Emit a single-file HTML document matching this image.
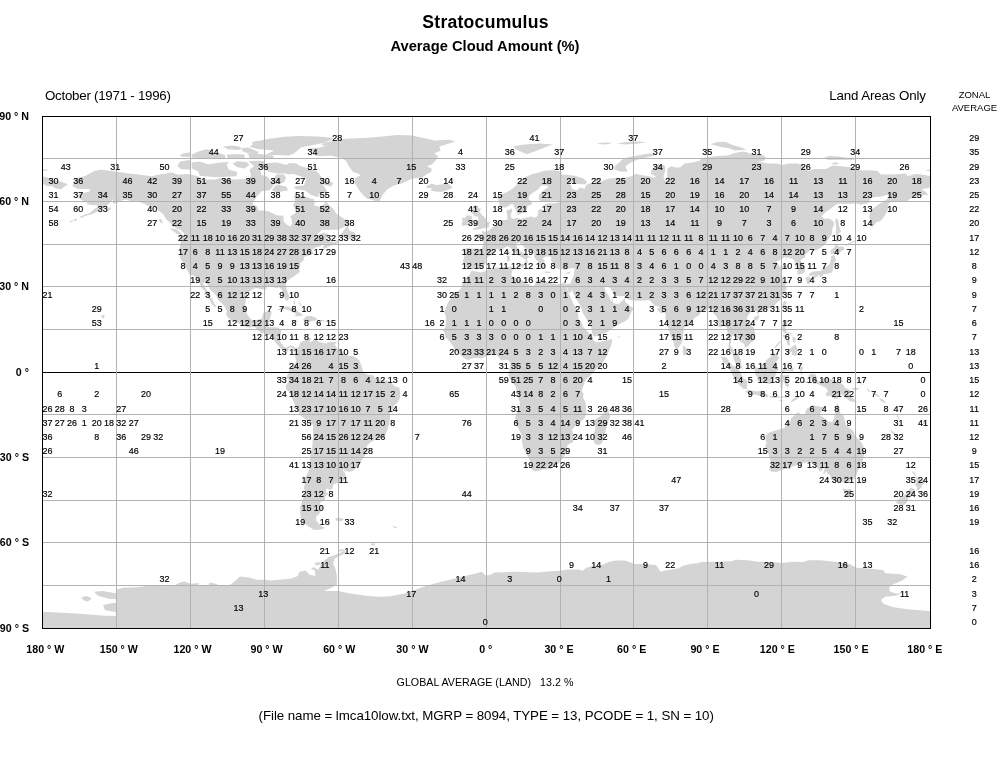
<!DOCTYPE html>
<html><head><meta charset="utf-8"><title>Stratocumulus</title>
<style>
html,body{margin:0;padding:0;background:#fff;}
body{width:997px;height:760px;overflow:hidden;position:relative;font-family:"Liberation Sans",sans-serif;}
svg{position:absolute;left:0;top:0;will-change:transform;}
text{font-family:"Liberation Sans",sans-serif;fill:#000;}
.n{font-size:9.6px;text-anchor:middle;stroke:#000;stroke-width:0.18px;}
.b{font-weight:bold;font-size:10.67px;}
</style></head><body>
<svg width="997" height="760" viewBox="0 0 997 760">
<defs><clipPath id="c"><rect x="43" y="117" width="887" height="511"/></clipPath></defs>
<g clip-path="url(#c)">
<path d="M72.3 185.9L76.0 178.2L84.6 176.2L94.5 171.1L100.6 169.7L111.7 171.1L121.6 172.5L129.0 173.4L138.8 174.5L151.1 176.2L158.5 174.8L167.1 173.4L170.8 172.3L178.2 174.8L188.1 174.0L197.9 176.2L202.9 179.4L215.2 179.4L220.1 177.9L227.5 179.1L234.9 179.6L244.7 179.1L249.7 178.5L250.9 174.8L249.7 170.5L254.6 168.3L258.3 172.0L260.8 174.8L266.9 176.2L270.6 180.5L274.3 177.7L276.8 174.2L284.2 174.5L285.9 177.7L284.2 181.9L279.2 184.2L274.3 184.2L271.8 187.6L269.4 190.5L262.0 191.0L257.1 196.1L253.4 201.8L252.6 204.7L257.1 206.1L258.3 210.4L264.5 210.4L269.4 211.8L276.8 215.2L283.4 215.8L283.7 221.7L286.6 224.6L290.3 226.6L292.3 224.0L291.5 218.9L290.3 216.6L295.2 213.2L297.7 209.8L292.8 205.5L295.2 201.8L294.0 195.3L300.2 195.6L306.3 196.7L310.0 198.4L313.7 199.0L314.9 203.3L313.7 205.2L318.6 206.7L323.6 205.2L326.0 201.0L328.5 204.7L333.4 208.9L335.9 213.2L339.6 216.1L344.5 218.9L348.2 221.7L348.9 224.6L345.7 226.3L338.4 229.7L328.5 229.7L322.3 229.7L318.6 233.1L313.7 237.4L311.3 239.4L314.9 236.5L323.6 232.6L327.8 233.7L326.0 236.5L326.5 238.8L328.5 241.1L334.7 242.2L338.4 239.4L338.4 242.2L335.9 243.9L329.7 245.9L324.8 248.8L323.1 247.9L323.6 245.6L327.3 243.6L321.1 244.5L321.1 245.9L316.2 247.3L312.5 249.3L312.0 251.6L313.7 253.0L313.7 254.2L310.0 254.7L303.9 257.0L303.9 260.1L300.2 263.0L300.2 267.3L298.9 267.8L299.9 272.1L296.5 274.4L294.0 276.4L290.3 278.6L286.6 281.5L285.6 285.7L287.9 292.9L289.1 296.3L288.3 300.8L286.1 300.8L284.2 297.1L282.2 292.9L282.2 290.0L279.2 287.2L275.5 288.0L271.8 286.0L266.9 286.3L266.2 289.4L262.0 289.2L255.8 288.0L252.1 289.4L247.2 292.9L246.2 298.5L245.2 304.2L245.5 309.1L246.7 313.6L249.7 317.9L253.1 320.7L258.3 319.6L262.0 318.5L263.2 312.8L268.1 311.3L271.8 311.3L270.6 317.0L269.4 319.9L268.6 324.1L267.4 327.0L270.6 327.3L274.3 327.3L278.0 327.6L281.2 329.8L280.5 335.5L280.0 341.2L281.7 344.1L284.2 346.9L286.6 347.5L289.1 346.3L290.3 345.2L292.8 345.8L295.2 347.8L295.7 349.7L293.5 351.2L292.8 348.3L290.3 347.2L288.3 349.2L287.9 351.7L285.4 350.6L281.7 348.9L280.0 347.8L276.8 344.1L274.8 341.5L273.1 338.4L270.6 335.5L268.1 335.0L264.5 333.5L260.8 332.7L258.3 330.7L254.6 326.7L252.1 327.0L248.4 327.8L243.5 325.9L239.8 324.1L235.4 321.6L231.2 320.2L227.5 316.7L226.0 314.2L226.8 311.3L225.0 307.1L221.3 302.8L217.6 299.4L216.4 295.7L214.0 292.9L210.3 290.0L207.8 284.3L203.6 282.0L203.4 284.3L204.8 287.2L207.8 291.4L210.3 295.7L212.7 300.0L214.4 303.7L216.4 306.5L214.7 307.1L211.5 303.4L209.8 300.0L207.8 296.8L204.1 294.3L205.3 291.4L201.6 287.7L199.2 282.9L197.4 279.5L194.2 275.8L189.3 274.4L188.1 271.5L185.6 267.8L184.4 265.0L181.2 260.1L180.0 257.6L180.7 253.0L179.5 250.2L180.7 241.7L179.2 235.1L183.2 235.1L184.4 238.0L183.7 233.1L180.7 230.3L175.8 228.0L172.1 226.0L170.8 223.2L167.1 220.3L165.2 217.5L163.5 214.6L158.5 210.4L154.8 207.0L149.9 206.7L146.2 204.7L141.3 202.4L136.4 201.8L131.4 201.8L126.5 199.6L121.6 200.4L117.9 202.4L113.0 203.8L113.0 199.0L109.3 203.3L106.8 206.1L101.9 209.5L96.9 211.8L92.0 214.1L87.1 215.5L80.9 217.2L84.6 214.6L89.6 213.2L94.5 208.9L98.2 206.1L95.7 205.2L92.0 205.2L87.1 204.1L87.1 201.8L82.2 200.4L78.5 197.6L77.2 196.1L79.7 193.3L84.6 192.7L89.6 191.6L89.6 189.0L84.6 189.0L77.2 188.7ZM295.7 348.3L298.9 346.9L300.2 342.6L302.6 341.2L306.3 339.8L308.8 338.4L310.0 337.2L311.3 338.9L309.3 341.8L311.3 341.8L313.7 339.8L314.5 337.8L317.4 341.2L321.1 342.6L326.0 343.5L328.5 342.3L333.4 342.1L334.7 344.6L337.1 348.3L340.8 349.7L344.5 354.0L348.2 355.7L353.1 356.0L356.8 358.3L359.3 360.3L361.8 366.8L363.0 371.1L363.0 372.5L366.7 373.9L367.9 374.8L372.8 375.3L376.5 379.0L380.2 379.6L383.9 380.7L387.6 380.5L391.3 383.0L395.0 386.4L399.2 387.6L400.2 392.4L399.9 398.1L397.5 402.4L394.3 405.2L392.5 409.5L390.1 412.3L390.1 418.0L389.3 423.7L387.6 429.4L385.2 435.1L382.7 437.9L377.8 438.5L374.1 440.2L370.4 442.5L366.7 445.9L366.4 450.7L365.4 454.4L362.5 459.3L359.3 463.5L356.8 466.9L354.4 469.8L350.7 471.8L347.0 471.5L343.3 469.8L342.3 469.2L345.2 473.5L345.7 476.3L344.0 480.6L340.8 482.6L335.9 483.4L332.9 484.9L332.7 488.6L329.7 489.7L326.0 488.6L326.0 492.5L329.0 493.4L325.3 496.2L324.8 500.5L320.4 501.9L319.9 504.8L323.6 507.6L321.1 510.7L318.6 514.7L316.2 516.1L316.2 520.4L317.4 521.8L318.6 523.3L321.1 526.1L324.8 528.1L322.3 529.2L317.4 530.1L313.7 529.8L310.0 527.5L306.3 524.7L302.6 521.8L300.7 517.6L300.2 511.9L300.2 506.2L302.6 500.5L303.9 496.2L305.1 492.0L303.9 487.7L305.1 483.4L304.8 479.2L306.8 474.9L308.8 470.6L309.8 466.4L310.0 460.7L310.3 455.0L311.3 450.7L312.5 445.0L312.7 439.3L313.2 432.2L313.0 425.1L310.0 421.7L305.1 418.9L300.2 415.2L298.2 411.8L296.0 407.2L294.0 402.4L291.5 396.7L289.1 391.8L286.1 389.6L285.9 385.3L288.3 382.2L289.1 379.6L286.6 378.8L287.1 375.3L289.1 372.5L289.1 369.7L291.5 368.2L292.8 365.4L295.2 364.5L296.0 361.1L295.2 356.9L295.2 352.6L294.3 351.7ZM306.3 150.1L316.2 152.1L311.3 154.0L318.6 156.3L331.0 155.8L340.8 157.7L345.7 160.6L348.2 164.9L350.7 169.1L353.1 172.0L358.1 173.4L360.5 175.4L355.6 177.7L354.4 181.9L356.8 186.2L359.3 190.5L363.0 194.7L366.7 198.4L372.8 200.1L377.8 202.1L380.2 200.4L381.5 196.7L383.9 193.3L387.6 189.0L393.8 185.6L402.4 183.3L412.2 178.5L422.1 177.4L427.0 174.0L430.7 172.5L432.0 169.1L427.0 166.3L432.0 164.3L435.7 160.6L438.1 156.3L434.4 153.5L440.6 150.6L439.3 146.4L444.3 144.9L455.4 141.5L449.2 139.8L434.4 140.4L427.0 138.7L412.2 135.6L397.5 135.0L382.7 136.4L367.9 137.8L350.7 138.4L338.4 139.3L331.0 141.2L323.6 143.0L321.1 144.9L326.0 146.1L318.6 147.8L308.8 148.6ZM426.3 186.2L432.0 183.6L436.9 185.3L441.8 184.2L446.7 183.3L449.9 184.8L452.6 187.6L449.2 189.6L441.8 191.9L435.7 191.6L430.7 190.7L432.0 188.2L427.0 187.9ZM289.1 162.9L296.5 163.4L298.9 165.4L308.8 168.6L316.2 171.1L319.9 174.8L322.3 178.5L329.7 181.4L333.4 183.1L331.0 186.8L327.3 185.6L322.3 184.2L326.0 189.0L327.3 192.4L322.3 192.4L317.4 195.3L323.6 196.1L316.2 196.7L310.0 194.2L305.1 190.5L297.7 189.6L294.0 188.2L295.2 186.2L303.9 185.6L305.1 182.5L306.3 178.5L298.9 175.7L292.8 173.7L289.1 174.5L284.2 173.4L276.8 173.4L269.4 172.0L265.7 170.0L264.5 166.3L266.9 163.1L276.8 162.6L286.6 165.1ZM264.5 155.5L276.8 154.9L289.1 155.5L294.0 153.5L298.9 149.2L301.4 147.2L311.3 145.5L323.6 142.7L331.0 140.1L333.4 138.1L318.6 136.4L298.9 136.1L284.2 136.7L269.4 138.7L259.5 140.7L257.1 143.5L252.1 144.9L249.7 146.9L257.1 148.9L266.9 149.8L274.3 150.6L269.4 152.9ZM271.8 189.9L276.8 192.4L282.9 191.3L287.9 190.5L286.6 186.8L279.2 185.1L275.5 185.6ZM340.1 236.8L343.3 237.1L348.2 239.1L353.1 239.7L355.6 238.2L356.3 235.1L353.9 232.3L349.4 230.8L348.2 227.4L349.4 225.7L345.7 227.4L344.0 230.3L340.8 234.3ZM170.1 228.0L177.0 229.4L181.9 233.7L181.4 235.1L177.0 233.7L172.1 230.3ZM277.0 310.2L281.7 307.1L287.9 306.5L294.0 308.8L299.7 312.8L303.4 315.0L301.4 315.9L294.7 316.2L296.0 313.9L292.8 311.9L287.9 309.9L284.2 309.1L279.7 309.9ZM302.6 320.2L306.3 315.9L311.3 315.9L314.9 317.3L317.7 319.6L314.9 320.4L311.3 321.0L309.3 321.9L306.8 320.4ZM293.0 320.2L298.2 321.0L297.0 321.9L294.0 321.9ZM320.6 319.9L324.3 320.2L324.1 321.6L320.6 321.3ZM105.6 207.8L111.0 207.5L110.5 209.8L106.3 210.9ZM158.5 218.9L161.5 219.2L163.0 223.2L160.3 222.6ZM471.6 270.7L481.2 272.4L486.2 270.7L493.5 267.8L503.4 267.3L510.8 266.4L513.2 267.5L512.0 271.5L511.3 274.9L513.7 278.1L518.2 278.9L523.8 280.9L524.3 282.9L529.3 284.6L533.0 286.3L535.4 284.3L535.4 280.9L540.3 279.2L544.0 280.9L547.7 282.6L553.9 283.8L557.6 284.6L562.5 282.9L565.7 283.8L570.4 283.5L566.2 287.2L568.7 292.9L571.1 298.5L573.6 304.2L577.3 309.9L578.0 314.2L578.5 319.0L581.0 321.3L583.0 327.0L585.9 329.8L589.6 334.1L592.6 336.9L592.8 339.5L595.8 342.6L600.7 341.8L605.6 340.6L612.3 338.9L611.8 342.9L610.5 346.9L608.1 352.6L605.6 358.3L601.9 364.0L597.0 368.2L593.3 372.5L589.6 375.9L585.9 379.6L583.5 385.3L581.7 390.4L583.5 393.8L583.2 398.1L585.4 402.4L586.2 408.1L586.4 413.7L584.7 418.0L581.0 421.4L576.8 423.7L573.6 428.0L571.9 429.4L573.1 433.7L573.6 439.3L572.9 442.2L567.4 445.0L566.9 447.9L566.9 452.1L564.5 455.6L562.0 459.3L558.8 463.0L555.1 466.1L551.4 468.6L547.7 469.2L542.8 469.5L535.4 471.5L531.7 469.8L531.0 464.9L530.5 462.1L528.0 456.4L525.6 452.1L523.1 447.9L521.9 440.8L521.6 435.1L518.9 429.4L516.2 423.7L515.2 418.0L516.9 412.3L519.4 408.1L519.9 402.4L518.2 398.1L516.9 391.0L515.7 386.7L513.2 383.3L509.6 378.8L508.3 374.8L509.1 371.1L510.0 366.8L510.3 362.5L507.8 359.7L503.4 360.0L500.9 360.3L498.5 356.9L496.0 354.6L491.1 354.6L486.2 356.3L481.2 358.6L477.5 358.0L473.8 358.0L467.7 360.0L464.0 358.3L459.1 353.4L455.4 351.2L453.4 346.9L450.4 342.6L448.0 339.8L445.0 336.9L444.8 332.7L443.0 330.7L445.5 327.0L446.0 321.3L446.2 317.0L444.3 312.8L445.5 308.5L447.2 304.2L449.7 300.0L452.9 295.7L454.6 292.9L459.1 290.6L461.5 287.7L462.3 284.3L463.2 280.1L466.4 277.2L469.4 275.2ZM607.6 406.6L610.1 416.6L608.1 422.3L605.6 430.8L603.2 439.3L601.9 443.6L598.2 445.0L594.5 443.6L593.1 437.9L593.6 433.7L595.3 429.4L595.0 423.7L594.5 420.3L598.2 417.4L601.9 415.2L604.4 411.8ZM570.4 283.5L572.1 279.2L573.6 275.8L574.3 270.7L575.3 268.4L571.1 268.1L566.2 269.8L561.3 269.2L557.6 268.7L553.9 267.3L552.7 263.0L550.7 260.1L551.4 257.9L550.2 256.4L545.3 256.4L542.8 258.2L544.8 261.6L542.8 264.4L545.3 265.0L542.8 268.7L540.3 267.8L538.6 265.8L537.9 261.6L534.2 257.3L534.2 253.6L530.5 250.8L525.6 248.8L523.1 245.9L520.6 243.9L519.9 242.5L516.4 243.6L516.9 247.3L520.6 251.6L525.6 253.6L531.7 258.2L528.0 257.3L526.8 260.1L528.0 261.9L525.6 264.4L524.8 264.4L525.6 260.1L523.1 258.2L520.6 256.4L516.9 254.2L513.2 251.6L511.5 248.8L507.8 246.2L504.6 247.9L500.9 249.9L497.2 249.1L494.0 249.6L494.0 253.0L491.1 255.0L487.4 257.3L485.4 260.1L486.2 262.4L484.4 265.0L481.2 267.8L475.1 268.1L472.6 269.8L470.6 268.1L467.7 267.0L464.2 267.3L464.5 263.0L462.7 262.1L464.5 255.9L464.2 251.6L463.5 249.6L466.4 247.9L471.4 248.5L477.5 248.8L481.7 249.1L482.9 245.9L483.4 241.7L481.2 238.8L475.1 236.5L474.6 234.5L478.8 233.7L482.5 234.0L481.7 231.1L486.2 232.0L489.8 229.7L492.3 227.4L494.8 226.3L496.5 224.0L498.0 221.7L500.9 220.3L505.9 220.0L507.6 218.9L507.1 214.6L506.3 210.4L509.6 209.8L512.0 208.4L512.0 211.8L510.8 214.6L510.8 217.2L513.2 218.9L516.9 217.8L520.6 218.9L526.8 217.5L531.7 216.6L534.2 217.8L537.9 216.1L537.9 210.9L540.3 208.7L544.0 210.4L546.0 208.1L544.0 206.1L545.3 203.8L550.2 203.3L555.1 203.3L560.0 202.1L556.4 200.4L551.4 200.7L545.3 201.8L541.6 201.8L538.6 199.0L539.1 194.7L542.8 191.0L547.7 187.6L548.5 186.2L544.0 185.3L540.3 186.2L538.6 189.0L534.2 191.9L529.3 195.3L528.5 199.0L531.7 201.8L531.7 204.7L528.0 205.5L526.8 208.9L525.6 212.6L521.9 213.2L518.2 214.9L516.9 212.6L515.2 208.9L513.2 204.7L512.0 203.8L509.6 205.2L505.9 207.5L502.2 207.5L499.7 205.2L498.5 201.8L498.5 197.6L500.9 194.7L507.1 191.9L512.0 189.0L516.9 184.8L520.6 180.5L525.6 177.1L531.7 174.2L537.9 172.8L545.3 170.5L552.7 170.3L558.8 171.1L562.5 172.5L560.0 174.2L567.4 175.1L574.8 175.7L583.5 178.5L587.1 181.9L585.9 184.2L579.8 184.2L572.4 182.8L567.4 182.8L571.1 185.3L571.9 189.0L577.3 190.5L579.3 187.6L584.7 188.7L585.9 185.3L589.6 183.3L594.5 184.2L595.3 180.5L594.5 177.7L599.5 178.5L600.7 181.9L604.4 179.9L609.3 178.5L616.7 177.7L620.4 178.5L626.6 177.4L631.5 176.2L635.2 174.0L643.8 175.4L648.7 176.2L653.7 177.7L656.1 176.5L651.2 174.0L651.2 170.5L654.9 166.3L658.6 164.3L664.7 165.4L665.5 170.5L663.5 176.2L664.7 180.5L668.4 181.9L667.2 177.7L667.2 169.1L670.9 166.3L677.1 167.7L680.8 167.1L684.4 163.4L693.1 162.6L700.5 160.6L700.5 158.6L707.9 157.2L717.7 156.0L727.6 155.5L734.9 152.9L743.1 151.5L747.3 152.6L752.2 154.3L762.0 154.9L765.7 156.9L764.5 160.6L757.1 162.0L763.3 162.6L767.0 163.4L776.8 163.4L781.8 164.9L789.1 163.4L797.8 163.4L802.7 164.9L805.2 169.1L808.8 171.1L813.8 169.1L821.2 169.1L826.1 169.1L831.0 166.3L833.5 165.4L845.8 166.8L854.4 167.7L856.9 169.4L861.8 170.5L870.4 170.3L877.8 171.1L880.3 174.2L885.2 174.5L892.6 174.5L900.0 174.0L906.1 173.4L907.4 176.2L914.8 174.0L919.7 174.2L924.6 175.1L930.8 176.2L930.8 187.0L927.1 188.5L923.4 188.5L922.2 189.9L925.9 191.9L928.3 194.7L922.2 195.3L914.8 196.7L909.8 199.0L906.1 201.8L897.5 201.0L890.1 202.1L887.7 206.1L888.4 208.1L886.4 212.6L884.7 216.1L880.3 221.2L876.6 222.0L872.2 227.4L870.4 223.2L869.2 216.1L870.4 210.4L875.4 206.7L880.3 203.3L885.2 200.4L888.9 197.6L887.7 194.7L880.3 196.7L877.8 196.7L871.7 197.6L868.0 203.3L860.6 204.7L855.6 203.3L850.7 203.8L843.3 203.8L837.2 203.8L831.0 208.4L826.1 211.8L821.2 216.6L824.9 218.9L828.6 218.3L833.5 221.2L834.2 224.6L832.2 228.9L831.8 234.5L828.6 238.8L826.1 243.1L822.4 246.8L819.2 248.8L813.8 251.0L810.8 249.6L808.1 252.2L805.6 254.5L805.2 257.3L800.2 260.1L802.2 263.0L804.7 267.3L805.2 271.5L802.7 273.5L797.8 274.7L797.3 271.5L798.3 267.8L794.6 265.3L794.8 260.7L792.3 259.0L787.2 257.3L785.0 261.6L786.2 256.4L779.8 260.1L776.3 261.6L778.1 264.4L779.8 266.7L783.7 265.0L787.9 266.7L784.2 268.7L780.5 272.1L781.8 275.8L784.2 280.1L786.4 282.9L785.4 285.7L786.7 287.7L785.4 291.4L783.0 295.1L780.5 300.0L776.8 302.8L774.4 305.7L770.7 307.9L767.0 309.1L763.3 310.8L759.6 311.6L757.6 314.8L756.6 311.3L753.4 310.8L749.7 312.8L747.3 317.0L746.8 319.0L749.7 324.1L753.4 327.0L755.1 332.7L755.4 336.9L754.7 339.8L751.0 342.6L748.5 345.5L744.8 347.8L744.3 344.1L741.1 342.3L738.6 338.9L734.9 336.4L733.7 334.1L732.5 335.0L731.3 339.8L730.5 345.5L732.5 348.3L733.7 352.0L736.2 353.2L738.6 355.4L740.9 359.7L741.1 364.5L742.8 368.5L741.1 368.8L736.2 364.8L734.5 361.1L733.2 356.9L732.5 354.0L730.0 350.3L728.3 348.3L728.8 344.1L729.3 338.4L727.6 332.7L726.6 327.0L722.6 325.6L720.9 327.6L718.4 327.0L718.4 321.3L716.5 316.2L713.3 313.3L712.3 309.1L709.1 308.5L705.4 310.5L700.5 311.9L699.2 315.6L695.5 317.0L691.8 321.3L688.9 325.0L684.0 327.8L683.2 334.1L682.7 339.8L681.5 343.2L678.8 346.9L677.1 349.5L674.6 346.9L672.9 340.4L670.4 335.5L668.9 329.8L666.7 324.1L665.5 318.5L665.5 312.8L663.5 312.8L661.0 313.3L658.6 311.3L656.6 309.1L659.8 307.1L654.9 305.7L651.9 302.8L650.0 300.3L643.8 300.5L637.6 300.8L631.5 300.3L627.3 299.1L625.3 295.7L620.4 296.6L616.7 295.7L613.0 292.9L610.5 288.6L606.9 286.3L604.4 287.2L605.6 291.4L608.1 294.8L609.3 297.1L611.3 301.4L613.0 298.8L613.0 302.8L615.5 303.7L619.2 303.7L622.9 300.0L624.8 298.0L625.3 302.0L629.0 305.1L633.5 308.5L630.3 314.2L628.5 318.5L625.3 321.3L622.1 322.7L616.7 325.6L611.8 329.0L605.6 332.7L599.5 334.7L597.0 336.1L593.3 336.4L592.1 332.7L591.3 327.0L587.1 319.9L582.7 312.8L581.0 307.1L577.8 301.4L573.6 294.3L571.9 290.0L572.1 288.6L570.6 292.9L568.9 292.3L566.9 287.7L565.7 283.8ZM41.5 176.2L47.7 177.7L55.1 180.5L62.5 181.9L67.9 184.5L64.9 186.2L61.2 189.3L55.1 188.2L52.6 186.2L46.4 185.9L44.0 183.9L41.5 187.0ZM613.8 168.8L615.5 165.4L619.2 162.6L622.9 159.2L629.0 156.9L638.9 155.2L648.7 153.5L656.1 153.8L653.7 155.8L642.6 158.3L635.2 160.6L629.0 163.4L625.3 166.8L627.8 171.4L621.6 171.7L617.9 170.8ZM513.2 146.4L520.6 144.9L530.5 144.1L540.3 143.5L552.7 144.4L545.3 147.2L539.1 149.8L533.0 152.1L526.8 154.3L521.9 152.1L515.7 149.2ZM597.0 143.2L604.4 142.4L611.8 142.7L609.3 144.1L601.9 144.4ZM616.7 143.2L626.6 142.1L638.9 141.5L646.3 142.4L636.4 143.8L624.1 144.4ZM710.3 144.1L717.7 142.1L725.1 141.8L732.5 144.9L742.3 147.8L746.0 149.8L734.9 150.6L730.0 148.4L722.6 147.2L715.2 145.5ZM823.6 158.3L828.6 156.0L838.4 156.6L845.8 157.7L855.6 158.3L853.2 159.7L843.3 159.7L835.9 159.7L828.6 160.0ZM830.5 163.7L835.9 162.3L839.6 163.7L834.7 164.6ZM925.9 170.3L930.8 169.1L930.8 170.8L927.1 171.1ZM41.5 169.1L48.9 169.7L46.4 170.8L41.5 170.8ZM835.9 218.0L838.4 220.3L839.1 226.0L840.9 231.7L838.4 233.7L839.1 238.8L839.6 241.1L835.9 241.7L835.9 237.4L835.9 231.7L835.9 226.0L835.2 221.7ZM831.0 254.5L833.5 253.6L838.9 253.0L844.6 249.3L843.3 246.8L838.4 246.5L835.5 243.1L834.7 247.3L831.8 249.3L830.5 251.6ZM834.2 254.7L835.9 260.1L833.5 264.4L833.0 268.7L832.2 272.4L829.8 272.9L827.3 274.1L823.6 274.1L823.1 274.9L820.7 277.2L818.7 274.9L813.8 275.2L808.8 275.8L808.8 274.1L812.5 271.8L816.2 271.2L821.2 271.0L823.1 267.3L824.9 266.4L827.3 266.4L829.8 263.6L831.0 259.3L831.0 256.4ZM806.4 277.2L808.8 276.4L810.8 278.6L810.1 282.9L808.4 284.3L806.9 283.5L806.4 280.1L805.2 278.6ZM812.5 275.8L817.5 274.9L817.5 276.6L815.0 277.8L813.0 279.2L812.0 277.2ZM784.2 300.8L786.7 301.4L785.4 305.7L783.7 309.9L782.2 307.1L782.5 304.2ZM753.9 317.6L758.3 315.3L759.6 316.7L757.1 320.2L753.9 319.9ZM783.0 319.9L787.2 319.9L787.4 324.1L785.4 327.6L786.7 332.1L791.1 333.2L791.6 336.4L789.1 334.1L786.2 333.2L783.5 332.7L782.5 330.4L781.5 326.4L782.7 322.7ZM786.7 351.2L790.4 348.3L795.3 344.6L797.5 348.9L797.0 354.0L795.3 356.0L792.1 354.9L791.6 351.7L787.2 352.9ZM792.3 336.9L795.3 337.5L795.5 341.2L794.1 343.5L792.8 340.6ZM786.7 338.9L789.6 339.8L789.9 345.5L787.9 345.5L786.7 342.6ZM774.9 348.6L778.1 345.5L780.5 341.8L780.0 340.4L776.8 344.6L774.4 347.5ZM782.7 334.4L785.2 334.7L785.2 337.5L783.7 337.5ZM754.7 366.8L757.1 367.7L759.6 368.2L760.6 365.1L764.5 363.4L767.0 359.4L770.7 356.9L773.9 352.6L775.6 354.0L779.3 357.7L777.6 359.7L776.1 362.5L776.8 366.8L779.3 369.7L776.3 371.1L775.6 375.3L773.1 379.6L771.9 383.3L768.7 384.2L764.5 381.9L761.6 382.5L757.6 380.7L757.1 376.8L755.1 373.9L754.7 370.2ZM720.9 356.6L726.3 357.7L728.8 361.1L732.5 365.4L734.9 366.8L739.9 371.1L741.8 375.3L743.6 378.2L747.3 381.0L746.8 389.0L743.6 389.0L738.1 383.9L734.9 379.6L732.5 375.3L729.5 368.2L726.3 364.5L722.6 361.1ZM745.3 391.8L748.5 389.6L753.4 391.0L758.3 391.6L759.6 390.7L763.3 392.1L767.7 394.4L768.2 397.2L762.0 396.4L755.9 394.7L751.0 394.4L748.0 393.5ZM769.4 395.8L774.4 396.1L779.3 396.4L784.2 396.4L789.1 396.1L788.6 397.5L781.8 397.8L778.1 397.8L774.4 398.1L769.9 397.5ZM790.4 401.8L794.1 398.1L799.5 396.4L797.8 398.7L792.8 401.5ZM779.3 399.5L783.7 400.9L781.8 401.8L779.3 400.4ZM781.3 370.2L784.2 368.8L789.1 369.7L794.1 367.7L792.8 371.4L789.1 371.1L785.4 371.1L782.5 372.5L783.0 375.3L785.4 375.3L789.9 375.1L787.9 377.3L785.4 378.2L787.4 381.6L789.1 385.3L787.4 387.6L785.9 385.9L784.2 382.5L783.0 381.0L782.7 385.3L782.5 388.4L780.5 388.1L780.5 382.5L778.8 380.5L780.0 376.8L781.3 373.1ZM800.2 367.4L801.5 366.2L803.2 368.2L801.5 371.1L802.7 373.9L801.0 374.8L800.2 371.1ZM801.5 381.0L808.4 381.6L807.6 383.0L801.9 382.5ZM796.5 381.6L799.5 381.9L798.5 383.3L796.5 382.7ZM808.8 374.8L812.5 373.6L816.2 374.8L816.7 378.8L818.7 381.9L822.4 378.8L826.1 377.3L831.0 379.3L834.7 380.2L839.6 382.5L843.3 384.7L845.3 388.1L849.5 389.6L850.2 391.8L848.3 392.4L850.7 395.8L854.4 399.5L856.9 401.8L853.2 401.8L849.5 400.9L845.8 397.5L842.1 394.4L839.6 396.1L837.2 398.7L833.5 398.4L829.8 395.5L826.6 396.4L825.6 393.3L828.1 391.8L826.1 388.1L821.2 385.6L817.5 383.9L813.8 384.2L813.3 381.9L811.3 380.5L815.0 379.6L811.3 378.2L808.8 376.5ZM852.0 388.1L855.6 388.1L859.3 388.1L861.3 384.4L860.6 386.7L858.1 389.6L854.4 390.4ZM857.6 379.9L861.8 382.7L863.3 385.9L861.8 384.4L858.1 381.0ZM867.0 387.9L870.2 391.3L869.0 392.1L867.0 389.6ZM683.2 344.9L686.2 348.3L687.7 352.6L685.7 354.9L683.7 355.4L682.7 351.2ZM765.7 435.1L767.0 434.5L769.4 432.2L773.9 431.1L779.3 429.4L784.2 428.0L787.4 423.7L787.2 420.9L790.4 421.4L790.9 418.6L794.1 415.7L797.8 412.3L801.5 414.6L805.2 414.9L805.6 410.9L807.6 408.1L810.1 407.2L812.5 404.9L815.0 406.1L819.9 406.6L823.1 407.2L821.2 410.9L819.9 415.2L823.6 417.4L828.6 421.4L832.2 422.3L834.2 418.0L835.0 412.3L835.5 408.1L837.2 403.2L839.6 408.1L840.1 413.2L843.3 415.2L844.6 419.4L845.8 425.1L849.5 428.0L853.2 430.8L854.4 435.1L857.6 437.9L861.8 443.0L863.5 446.5L864.3 452.7L863.0 459.3L861.8 464.1L858.9 468.6L856.9 473.5L855.6 478.3L850.7 480.3L846.5 483.4L843.3 481.4L839.6 482.6L834.7 481.4L831.0 479.2L829.8 474.9L827.3 473.5L826.1 470.6L824.9 473.5L823.1 474.0L824.9 467.8L825.6 465.5L821.2 471.2L819.9 471.5L816.7 466.4L813.8 463.8L808.8 462.1L803.9 462.7L797.8 464.4L791.6 466.9L790.4 468.9L784.2 468.9L780.5 470.3L776.8 472.1L771.9 471.8L769.4 470.1L769.4 467.8L771.2 463.5L770.2 459.3L768.9 455.0L767.0 450.7L765.2 446.5L766.5 443.6L765.7 440.2ZM842.6 488.6L847.0 489.4L851.2 488.8L851.5 492.0L850.2 495.4L847.0 496.5L844.6 494.2L843.8 491.4ZM911.8 470.6L914.8 472.9L916.7 477.2L919.2 477.2L919.7 479.5L924.6 479.5L925.9 480.0L924.1 484.0L922.2 484.6L921.7 487.1L918.0 490.8L916.7 490.0L917.2 486.8L914.3 484.6L916.2 482.9L916.5 479.2L915.5 476.3L912.3 472.6ZM911.6 487.7L915.3 489.7L913.5 493.4L911.8 496.2L908.1 498.5L906.9 502.8L903.7 505.1L900.7 504.8L896.3 503.3L897.0 500.5L900.7 497.7L904.9 494.8L908.1 492.0L909.8 488.6ZM890.1 429.7L893.8 431.9L897.5 435.9L895.8 435.9L891.4 432.5ZM472.1 230.0L477.5 229.4L483.7 228.3L489.4 226.9L488.6 225.2L490.3 222.6L486.9 221.7L486.2 219.8L484.9 217.5L482.5 215.5L480.7 213.2L479.5 211.8L481.2 208.7L477.5 208.1L478.8 205.8L473.8 205.8L472.1 208.9L470.9 211.8L473.3 214.6L474.3 216.6L477.5 216.3L478.8 218.9L478.3 220.6L475.1 220.9L475.8 223.2L473.3 225.2L477.5 226.0L478.8 226.9L475.1 227.4ZM471.4 224.0L470.9 220.3L472.6 217.5L470.6 215.5L466.4 215.5L465.2 217.8L461.5 218.3L462.7 220.9L461.5 224.6L462.7 226.0L466.4 225.2ZM516.9 264.4L524.3 263.8L523.6 268.1L516.9 265.5ZM506.6 255.9L509.8 255.9L509.8 261.0L507.1 261.6ZM507.6 251.6L509.3 250.2L509.6 254.5L507.8 254.5ZM544.3 271.2L550.7 272.1L550.2 272.9L545.3 272.9ZM565.7 272.9L571.1 271.2L569.4 273.5L566.2 274.1ZM80.2 216.3L84.1 215.8L83.6 217.2L79.9 217.8ZM74.0 219.5L76.7 218.6L77.2 220.0L74.0 220.9ZM69.8 221.2L72.8 220.0L72.8 221.2L69.8 222.3ZM101.6 315.0L103.8 315.0L104.8 317.0L102.9 318.7L101.6 316.7ZM335.4 518.1L340.8 518.1L343.8 519.3L340.8 521.3L335.9 520.4ZM392.1 526.1L396.2 526.7L398.0 528.4L393.8 527.5ZM871.7 391.6L874.1 393.0L879.8 396.1L879.3 397.2L873.6 394.4ZM879.1 398.7L882.3 399.2L885.9 402.4L884.0 402.9L880.3 400.4ZM896.3 414.3L898.3 415.7L899.5 419.4L898.0 418.9ZM922.9 422.0L926.1 422.3L925.9 424.3L922.9 424.0ZM845.8 245.9L850.7 243.6L856.9 240.8L856.1 239.9L849.5 242.8L845.3 245.1ZM617.4 336.4L620.4 336.7L620.2 337.5L617.7 337.2ZM293.0 300.8L294.7 300.8L295.2 304.2L294.0 304.8ZM294.5 296.0L296.5 296.8L296.0 298.5L294.0 297.1ZM298.4 301.4L300.2 302.8L301.9 306.5L300.9 306.5L298.9 303.4ZM333.7 341.8L336.1 341.8L335.9 343.8L333.7 343.8ZM41.9 611.7L76.1 613.4L105.0 615.8L117.0 616.1L117.0 612.2L105.0 610.3L103.1 605.0L112.2 603.1L117.0 603.1L117.0 599.0L109.8 599.0L97.8 595.8L94.2 591.8L102.6 591.0L117.0 593.4L117.0 589.4L123.1 587.7L136.3 587.2L153.1 585.3L165.2 586.2L174.8 585.7L178.4 582.9L184.4 581.4L190.5 583.8L198.9 582.9L197.7 585.7L208.5 585.3L209.7 582.4L215.7 583.8L219.3 585.7L230.2 584.8L235.0 580.9L239.8 576.6L249.4 577.6L256.7 579.7L268.7 580.0L270.0 580.4L279.6 579.7L291.7 578.5L297.7 576.1L299.4 572.0L305.6 570.6L309.7 574.7L315.3 576.1L314.8 570.3L310.9 568.9L313.8 567.0L318.1 569.9L320.1 566.0L324.2 560.5L329.0 556.9L335.0 554.9L342.2 552.0L345.1 550.1L345.6 553.0L339.8 555.9L334.5 558.8L333.1 564.1L335.5 568.9L336.9 576.1L336.9 584.5L333.1 586.9L324.2 591.0L338.6 591.0L349.4 593.4L366.3 595.8L378.3 596.8L390.4 596.3L404.8 593.4L414.4 590.1L426.5 585.7L438.5 582.4L453.0 579.0L462.6 576.6L474.6 573.7L481.8 571.8L485.5 575.6L490.0 574.9L494.8 572.5L514.1 571.8L538.1 572.5L550.2 571.3L559.8 570.8L567.0 569.4L579.1 569.4L582.7 570.8L586.3 567.7L593.5 566.0L603.1 564.6L609.2 561.7L615.2 560.5L624.8 560.5L632.0 562.9L634.4 564.1L644.1 564.1L656.1 565.0L658.5 568.4L660.4 571.8L668.1 570.1L677.8 568.4L682.6 566.0L689.8 564.1L699.4 562.9L700.0 562.1L714.4 561.7L731.3 561.2L736.1 559.7L748.1 560.2L757.8 561.7L772.2 562.1L781.8 562.9L791.5 561.7L803.5 562.1L808.3 560.2L820.4 560.2L834.8 561.7L849.3 564.1L856.5 567.7L868.5 568.4L883.0 570.1L885.4 573.2L899.8 574.2L907.5 576.6L902.2 580.4L892.6 584.5L889.0 588.1L890.2 591.8L896.2 593.4L902.2 593.4L895.0 595.8L885.4 596.8L881.0 599.7L883.4 603.8L892.6 606.9L907.0 609.3L928.7 611.0L932.3 611.3L932.0 630.0L41.0 630.0ZM81.4 597.3L86.9 596.1L91.8 598.3L88.1 601.4L83.3 600.2ZM314.5 563.1L319.4 562.1L321.0 564.6L315.7 565.5ZM338.1 550.1L343.4 549.1L343.7 551.1L338.6 551.6ZM371.1 543.6L375.0 543.6L375.0 545.3L371.1 545.3Z" fill="#d4d4d4" stroke="none"/>
<path d="M179.6 155.5L183.2 153.5L189.9 152.3L190.5 157.1L182.0 156.7ZM191.7 154.7L197.7 151.7L206.1 149.3L209.7 149.9L210.3 151.9L219.3 153.5L224.8 154.7L225.4 157.9L206.1 158.2L191.7 157.7ZM222.9 146.6L232.6 145.6L239.8 146.8L242.2 149.3L237.4 150.0L227.8 149.3ZM242.2 148.1L248.2 147.4L254.2 149.9L258.4 151.7L257.8 154.1L248.2 153.5L242.2 151.1ZM226.6 154.7L237.4 154.1L244.6 154.7L244.6 158.0L227.8 158.0ZM248.2 154.1L254.2 153.5L266.3 154.7L273.5 155.9L273.5 158.4L249.4 158.2ZM251.8 142.6L256.6 140.8L263.3 141.4L264.5 148.1L259.0 149.3L254.2 146.8ZM177.2 166.1L180.2 161.5L189.9 160.1L190.2 169.7L180.8 169.1ZM191.7 162.5L198.9 161.5L208.5 164.3L220.5 162.5L229.0 161.9L226.6 164.9L229.0 169.7L237.4 172.1L236.2 176.3L218.1 177.2L200.1 176.0L197.7 170.9L191.7 168.5ZM232.6 163.7L237.4 161.3L247.0 161.9L249.4 164.9L244.6 168.5L237.4 167.3ZM248.2 161.5L254.2 160.7L265.1 161.3L265.1 166.1L259.0 168.5L261.5 173.3L259.0 178.1L253.0 175.7L249.4 169.7L254.2 166.1Z" fill="#d4d4d4" stroke="none"/>
<path d="M43 372.5H930" stroke="#000" stroke-width="1" fill="none" shape-rendering="crispEdges"/>
<path d="M116.5 117V628M190.5 117V628M264.5 117V628M338.5 117V628M412.5 117V628M486.5 117V628M560.5 117V628M633.5 117V628M707.5 117V628M781.5 117V628M855.5 117V628M43 158.5H930M43 201.5H930M43 244.5H930M43 286.5H930M43 329.5H930M43 414.5H930M43 457.5H930M43 500.5H930M43 542.5H930M43 585.5H930" stroke="#b2b2b2" stroke-width="1" fill="none" shape-rendering="crispEdges"/>
<g class="n" transform="scale(0.9370 1)"><text x="195.3" y="241">22</text><text x="208.5" y="241">11</text><text x="221.7" y="241">18</text><text x="234.8" y="241">10</text><text x="248.0" y="241">16</text><text x="261.2" y="241">20</text><text x="274.3" y="241">31</text><text x="287.5" y="241">29</text><text x="300.6" y="241">38</text><text x="313.8" y="241">32</text><text x="327.0" y="241">37</text><text x="340.1" y="241">29</text><text x="353.3" y="241">32</text><text x="366.5" y="241">33</text><text x="379.6" y="241">32</text><text x="498.1" y="241">26</text><text x="511.2" y="241">29</text><text x="524.4" y="241">28</text><text x="537.6" y="241">26</text><text x="550.7" y="241">20</text><text x="563.9" y="241">16</text><text x="577.1" y="241">15</text><text x="590.2" y="241">15</text><text x="603.4" y="241">14</text><text x="616.5" y="241">16</text><text x="629.7" y="241">14</text><text x="642.9" y="241">12</text><text x="656.0" y="241">13</text><text x="669.2" y="241">14</text><text x="682.4" y="241">11</text><text x="695.5" y="241">11</text><text x="708.7" y="241">12</text><text x="721.8" y="241">11</text><text x="735.0" y="241">11</text><text x="748.2" y="241">8</text><text x="761.3" y="241">11</text><text x="774.5" y="241">11</text><text x="787.7" y="241">10</text><text x="800.8" y="241">6</text><text x="814.0" y="241">7</text><text x="827.1" y="241">4</text><text x="840.3" y="241">7</text><text x="853.5" y="241">10</text><text x="866.6" y="241">8</text><text x="879.8" y="241">9</text><text x="893.0" y="241">10</text><text x="906.1" y="241">4</text><text x="919.3" y="241">10</text><text x="195.3" y="255">17</text><text x="208.5" y="255">6</text><text x="221.7" y="255">8</text><text x="234.8" y="255">11</text><text x="248.0" y="255">13</text><text x="261.2" y="255">15</text><text x="274.3" y="255">18</text><text x="287.5" y="255">24</text><text x="300.6" y="255">27</text><text x="313.8" y="255">28</text><text x="327.0" y="255">16</text><text x="340.1" y="255">17</text><text x="353.3" y="255">29</text><text x="498.1" y="255">18</text><text x="511.2" y="255">21</text><text x="524.4" y="255">22</text><text x="537.6" y="255">14</text><text x="550.7" y="255">11</text><text x="563.9" y="255">19</text><text x="577.1" y="255">18</text><text x="590.2" y="255">15</text><text x="603.4" y="255">12</text><text x="616.5" y="255">13</text><text x="629.7" y="255">16</text><text x="642.9" y="255">21</text><text x="656.0" y="255">13</text><text x="669.2" y="255">8</text><text x="682.4" y="255">4</text><text x="695.5" y="255">5</text><text x="708.7" y="255">6</text><text x="721.8" y="255">6</text><text x="735.0" y="255">6</text><text x="748.2" y="255">4</text><text x="761.3" y="255">1</text><text x="774.5" y="255">1</text><text x="787.7" y="255">2</text><text x="800.8" y="255">4</text><text x="814.0" y="255">6</text><text x="827.1" y="255">8</text><text x="840.3" y="255">12</text><text x="853.5" y="255">20</text><text x="866.6" y="255">7</text><text x="879.8" y="255">5</text><text x="893.0" y="255">4</text><text x="906.1" y="255">7</text><text x="195.3" y="269">8</text><text x="208.5" y="269">4</text><text x="221.7" y="269">5</text><text x="234.8" y="269">9</text><text x="248.0" y="269">9</text><text x="261.2" y="269">13</text><text x="274.3" y="269">13</text><text x="287.5" y="269">16</text><text x="300.6" y="269">19</text><text x="313.8" y="269">15</text><text x="432.3" y="269">43</text><text x="445.4" y="269">48</text><text x="498.1" y="269">12</text><text x="511.2" y="269">15</text><text x="524.4" y="269">17</text><text x="537.6" y="269">11</text><text x="550.7" y="269">12</text><text x="563.9" y="269">12</text><text x="577.1" y="269">10</text><text x="590.2" y="269">8</text><text x="603.4" y="269">8</text><text x="616.5" y="269">7</text><text x="629.7" y="269">8</text><text x="642.9" y="269">15</text><text x="656.0" y="269">11</text><text x="669.2" y="269">8</text><text x="682.4" y="269">3</text><text x="695.5" y="269">4</text><text x="708.7" y="269">6</text><text x="721.8" y="269">1</text><text x="735.0" y="269">0</text><text x="748.2" y="269">0</text><text x="761.3" y="269">4</text><text x="774.5" y="269">3</text><text x="787.7" y="269">8</text><text x="800.8" y="269">8</text><text x="814.0" y="269">5</text><text x="827.1" y="269">7</text><text x="840.3" y="269">10</text><text x="853.5" y="269">15</text><text x="866.6" y="269">11</text><text x="879.8" y="269">7</text><text x="893.0" y="269">8</text><text x="208.5" y="283">19</text><text x="221.7" y="283">2</text><text x="234.8" y="283">5</text><text x="248.0" y="283">10</text><text x="261.2" y="283">13</text><text x="274.3" y="283">13</text><text x="287.5" y="283">13</text><text x="300.6" y="283">13</text><text x="353.3" y="283">16</text><text x="471.8" y="283">32</text><text x="498.1" y="283">11</text><text x="511.2" y="283">11</text><text x="524.4" y="283">2</text><text x="537.6" y="283">3</text><text x="550.7" y="283">10</text><text x="563.9" y="283">16</text><text x="577.1" y="283">14</text><text x="590.2" y="283">22</text><text x="603.4" y="283">7</text><text x="616.5" y="283">6</text><text x="629.7" y="283">3</text><text x="642.9" y="283">4</text><text x="656.0" y="283">3</text><text x="669.2" y="283">4</text><text x="682.4" y="283">2</text><text x="695.5" y="283">2</text><text x="708.7" y="283">3</text><text x="721.8" y="283">3</text><text x="735.0" y="283">5</text><text x="748.2" y="283">7</text><text x="761.3" y="283">12</text><text x="774.5" y="283">12</text><text x="787.7" y="283">29</text><text x="800.8" y="283">22</text><text x="814.0" y="283">9</text><text x="827.1" y="283">10</text><text x="840.3" y="283">17</text><text x="853.5" y="283">9</text><text x="866.6" y="283">4</text><text x="879.8" y="283">3</text><text x="50.6" y="298">21</text><text x="208.5" y="298">22</text><text x="221.7" y="298">3</text><text x="234.8" y="298">6</text><text x="248.0" y="298">12</text><text x="261.2" y="298">12</text><text x="274.3" y="298">12</text><text x="300.6" y="298">9</text><text x="313.8" y="298">10</text><text x="471.8" y="298">30</text><text x="484.9" y="298">25</text><text x="498.1" y="298">1</text><text x="511.2" y="298">1</text><text x="524.4" y="298">1</text><text x="537.6" y="298">1</text><text x="550.7" y="298">2</text><text x="563.9" y="298">8</text><text x="577.1" y="298">3</text><text x="590.2" y="298">0</text><text x="603.4" y="298">1</text><text x="616.5" y="298">2</text><text x="629.7" y="298">4</text><text x="642.9" y="298">3</text><text x="656.0" y="298">1</text><text x="669.2" y="298">2</text><text x="682.4" y="298">1</text><text x="695.5" y="298">2</text><text x="708.7" y="298">3</text><text x="721.8" y="298">3</text><text x="735.0" y="298">6</text><text x="748.2" y="298">12</text><text x="761.3" y="298">21</text><text x="774.5" y="298">17</text><text x="787.7" y="298">37</text><text x="800.8" y="298">37</text><text x="814.0" y="298">21</text><text x="827.1" y="298">31</text><text x="840.3" y="298">35</text><text x="853.5" y="298">7</text><text x="866.6" y="298">7</text><text x="893.0" y="298">1</text><text x="103.2" y="312">29</text><text x="221.7" y="312">5</text><text x="234.8" y="312">5</text><text x="248.0" y="312">8</text><text x="261.2" y="312">9</text><text x="287.5" y="312">7</text><text x="300.6" y="312">7</text><text x="313.8" y="312">8</text><text x="327.0" y="312">10</text><text x="471.8" y="312">1</text><text x="484.9" y="312">0</text><text x="524.4" y="312">1</text><text x="537.6" y="312">1</text><text x="577.1" y="312">0</text><text x="603.4" y="312">0</text><text x="616.5" y="312">2</text><text x="629.7" y="312">3</text><text x="642.9" y="312">1</text><text x="656.0" y="312">1</text><text x="669.2" y="312">4</text><text x="695.5" y="312">3</text><text x="708.7" y="312">5</text><text x="721.8" y="312">6</text><text x="735.0" y="312">9</text><text x="748.2" y="312">12</text><text x="761.3" y="312">12</text><text x="774.5" y="312">16</text><text x="787.7" y="312">36</text><text x="800.8" y="312">31</text><text x="814.0" y="312">28</text><text x="827.1" y="312">31</text><text x="840.3" y="312">35</text><text x="853.5" y="312">11</text><text x="919.3" y="312">2</text><text x="103.2" y="326">53</text><text x="221.7" y="326">15</text><text x="248.0" y="326">12</text><text x="261.2" y="326">12</text><text x="274.3" y="326">12</text><text x="287.5" y="326">13</text><text x="300.6" y="326">4</text><text x="313.8" y="326">8</text><text x="327.0" y="326">8</text><text x="340.1" y="326">6</text><text x="353.3" y="326">15</text><text x="458.6" y="326">16</text><text x="471.8" y="326">2</text><text x="484.9" y="326">1</text><text x="498.1" y="326">1</text><text x="511.2" y="326">1</text><text x="524.4" y="326">0</text><text x="537.6" y="326">0</text><text x="550.7" y="326">0</text><text x="563.9" y="326">0</text><text x="603.4" y="326">0</text><text x="616.5" y="326">3</text><text x="629.7" y="326">2</text><text x="642.9" y="326">1</text><text x="656.0" y="326">9</text><text x="708.7" y="326">14</text><text x="721.8" y="326">12</text><text x="735.0" y="326">14</text><text x="761.3" y="326">13</text><text x="774.5" y="326">18</text><text x="787.7" y="326">17</text><text x="800.8" y="326">24</text><text x="814.0" y="326">7</text><text x="827.1" y="326">7</text><text x="840.3" y="326">12</text><text x="958.8" y="326">15</text><text x="274.3" y="340">12</text><text x="287.5" y="340">14</text><text x="300.6" y="340">10</text><text x="313.8" y="340">11</text><text x="327.0" y="340">8</text><text x="340.1" y="340">12</text><text x="353.3" y="340">12</text><text x="366.5" y="340">23</text><text x="471.8" y="340">6</text><text x="484.9" y="340">5</text><text x="498.1" y="340">3</text><text x="511.2" y="340">3</text><text x="524.4" y="340">3</text><text x="537.6" y="340">0</text><text x="550.7" y="340">0</text><text x="563.9" y="340">0</text><text x="577.1" y="340">1</text><text x="590.2" y="340">1</text><text x="603.4" y="340">1</text><text x="616.5" y="340">10</text><text x="629.7" y="340">4</text><text x="642.9" y="340">15</text><text x="708.7" y="340">17</text><text x="721.8" y="340">15</text><text x="735.0" y="340">11</text><text x="761.3" y="340">22</text><text x="774.5" y="340">12</text><text x="787.7" y="340">17</text><text x="800.8" y="340">30</text><text x="840.3" y="340">6</text><text x="853.5" y="340">2</text><text x="893.0" y="340">8</text><text x="300.6" y="355">13</text><text x="313.8" y="355">11</text><text x="327.0" y="355">15</text><text x="340.1" y="355">16</text><text x="353.3" y="355">17</text><text x="366.5" y="355">10</text><text x="379.6" y="355">5</text><text x="484.9" y="355">20</text><text x="498.1" y="355">23</text><text x="511.2" y="355">33</text><text x="524.4" y="355">21</text><text x="537.6" y="355">24</text><text x="550.7" y="355">5</text><text x="563.9" y="355">3</text><text x="577.1" y="355">2</text><text x="590.2" y="355">3</text><text x="603.4" y="355">4</text><text x="616.5" y="355">13</text><text x="629.7" y="355">7</text><text x="642.9" y="355">12</text><text x="708.7" y="355">27</text><text x="721.8" y="355">9</text><text x="735.0" y="355">3</text><text x="761.3" y="355">22</text><text x="774.5" y="355">16</text><text x="787.7" y="355">18</text><text x="800.8" y="355">19</text><text x="827.1" y="355">17</text><text x="840.3" y="355">3</text><text x="853.5" y="355">2</text><text x="866.6" y="355">1</text><text x="879.8" y="355">0</text><text x="919.3" y="355">0</text><text x="932.4" y="355">1</text><text x="958.8" y="355">7</text><text x="971.9" y="355">18</text><text x="103.2" y="369">1</text><text x="313.8" y="369">24</text><text x="327.0" y="369">26</text><text x="353.3" y="369">4</text><text x="366.5" y="369">15</text><text x="379.6" y="369">3</text><text x="498.1" y="369">27</text><text x="511.2" y="369">37</text><text x="537.6" y="369">31</text><text x="550.7" y="369">35</text><text x="563.9" y="369">5</text><text x="577.1" y="369">5</text><text x="590.2" y="369">12</text><text x="603.4" y="369">4</text><text x="616.5" y="369">15</text><text x="629.7" y="369">20</text><text x="642.9" y="369">20</text><text x="708.7" y="369">2</text><text x="774.5" y="369">14</text><text x="787.7" y="369">8</text><text x="800.8" y="369">16</text><text x="814.0" y="369">11</text><text x="827.1" y="369">4</text><text x="840.3" y="369">16</text><text x="853.5" y="369">7</text><text x="971.9" y="369">0</text><text x="300.6" y="383">33</text><text x="313.8" y="383">34</text><text x="327.0" y="383">18</text><text x="340.1" y="383">21</text><text x="353.3" y="383">7</text><text x="366.5" y="383">8</text><text x="379.6" y="383">6</text><text x="392.8" y="383">4</text><text x="405.9" y="383">12</text><text x="419.1" y="383">13</text><text x="432.3" y="383">0</text><text x="537.6" y="383">59</text><text x="550.7" y="383">51</text><text x="563.9" y="383">25</text><text x="577.1" y="383">7</text><text x="590.2" y="383">8</text><text x="603.4" y="383">6</text><text x="616.5" y="383">20</text><text x="629.7" y="383">4</text><text x="669.2" y="383">15</text><text x="787.7" y="383">14</text><text x="800.8" y="383">5</text><text x="814.0" y="383">12</text><text x="827.1" y="383">13</text><text x="840.3" y="383">5</text><text x="853.5" y="383">20</text><text x="866.6" y="383">16</text><text x="879.8" y="383">10</text><text x="893.0" y="383">18</text><text x="906.1" y="383">8</text><text x="919.3" y="383">17</text><text x="985.1" y="383">0</text><text x="63.7" y="397">6</text><text x="103.2" y="397">2</text><text x="155.9" y="397">20</text><text x="300.6" y="397">24</text><text x="313.8" y="397">18</text><text x="327.0" y="397">12</text><text x="340.1" y="397">14</text><text x="353.3" y="397">14</text><text x="366.5" y="397">11</text><text x="379.6" y="397">12</text><text x="392.8" y="397">17</text><text x="405.9" y="397">15</text><text x="419.1" y="397">2</text><text x="432.3" y="397">4</text><text x="484.9" y="397">65</text><text x="550.7" y="397">43</text><text x="563.9" y="397">14</text><text x="577.1" y="397">8</text><text x="590.2" y="397">2</text><text x="603.4" y="397">6</text><text x="616.5" y="397">7</text><text x="708.7" y="397">15</text><text x="800.8" y="397">9</text><text x="814.0" y="397">8</text><text x="827.1" y="397">6</text><text x="840.3" y="397">3</text><text x="853.5" y="397">10</text><text x="866.6" y="397">4</text><text x="893.0" y="397">21</text><text x="906.1" y="397">22</text><text x="932.4" y="397">7</text><text x="945.6" y="397">7</text><text x="985.1" y="397">0</text><text x="50.6" y="412">26</text><text x="63.7" y="412">28</text><text x="76.9" y="412">8</text><text x="90.0" y="412">3</text><text x="129.5" y="412">27</text><text x="313.8" y="412">13</text><text x="327.0" y="412">23</text><text x="340.1" y="412">17</text><text x="353.3" y="412">10</text><text x="366.5" y="412">16</text><text x="379.6" y="412">10</text><text x="392.8" y="412">7</text><text x="405.9" y="412">5</text><text x="419.1" y="412">14</text><text x="550.7" y="412">31</text><text x="563.9" y="412">3</text><text x="577.1" y="412">5</text><text x="590.2" y="412">4</text><text x="603.4" y="412">5</text><text x="616.5" y="412">11</text><text x="629.7" y="412">3</text><text x="642.9" y="412">26</text><text x="656.0" y="412">48</text><text x="669.2" y="412">36</text><text x="774.5" y="412">28</text><text x="840.3" y="412">6</text><text x="866.6" y="412">6</text><text x="879.8" y="412">4</text><text x="893.0" y="412">8</text><text x="919.3" y="412">15</text><text x="945.6" y="412">8</text><text x="958.8" y="412">47</text><text x="985.1" y="412">26</text><text x="50.6" y="426">37</text><text x="63.7" y="426">27</text><text x="76.9" y="426">26</text><text x="90.0" y="426">1</text><text x="103.2" y="426">20</text><text x="116.4" y="426">18</text><text x="129.5" y="426">32</text><text x="142.7" y="426">27</text><text x="313.8" y="426">21</text><text x="327.0" y="426">35</text><text x="340.1" y="426">9</text><text x="353.3" y="426">17</text><text x="366.5" y="426">7</text><text x="379.6" y="426">17</text><text x="392.8" y="426">11</text><text x="405.9" y="426">20</text><text x="419.1" y="426">8</text><text x="498.1" y="426">76</text><text x="550.7" y="426">6</text><text x="563.9" y="426">5</text><text x="577.1" y="426">3</text><text x="590.2" y="426">4</text><text x="603.4" y="426">14</text><text x="616.5" y="426">9</text><text x="629.7" y="426">13</text><text x="642.9" y="426">29</text><text x="656.0" y="426">32</text><text x="669.2" y="426">38</text><text x="682.4" y="426">41</text><text x="840.3" y="426">4</text><text x="853.5" y="426">6</text><text x="866.6" y="426">2</text><text x="879.8" y="426">3</text><text x="893.0" y="426">4</text><text x="906.1" y="426">9</text><text x="958.8" y="426">31</text><text x="985.1" y="426">41</text><text x="50.6" y="440">36</text><text x="103.2" y="440">8</text><text x="129.5" y="440">36</text><text x="155.9" y="440">29</text><text x="169.0" y="440">32</text><text x="327.0" y="440">56</text><text x="340.1" y="440">24</text><text x="353.3" y="440">15</text><text x="366.5" y="440">26</text><text x="379.6" y="440">12</text><text x="392.8" y="440">24</text><text x="405.9" y="440">26</text><text x="445.4" y="440">7</text><text x="550.7" y="440">19</text><text x="563.9" y="440">3</text><text x="577.1" y="440">3</text><text x="590.2" y="440">12</text><text x="603.4" y="440">13</text><text x="616.5" y="440">24</text><text x="629.7" y="440">10</text><text x="642.9" y="440">32</text><text x="669.2" y="440">46</text><text x="814.0" y="440">6</text><text x="827.1" y="440">1</text><text x="866.6" y="440">1</text><text x="879.8" y="440">7</text><text x="893.0" y="440">5</text><text x="906.1" y="440">9</text><text x="919.3" y="440">9</text><text x="945.6" y="440">28</text><text x="958.8" y="440">32</text><text x="50.6" y="454">26</text><text x="142.7" y="454">46</text><text x="234.8" y="454">19</text><text x="327.0" y="454">25</text><text x="340.1" y="454">17</text><text x="353.3" y="454">15</text><text x="366.5" y="454">11</text><text x="379.6" y="454">14</text><text x="392.8" y="454">28</text><text x="563.9" y="454">9</text><text x="577.1" y="454">3</text><text x="590.2" y="454">5</text><text x="603.4" y="454">29</text><text x="642.9" y="454">31</text><text x="814.0" y="454">15</text><text x="827.1" y="454">3</text><text x="840.3" y="454">3</text><text x="853.5" y="454">2</text><text x="866.6" y="454">2</text><text x="879.8" y="454">5</text><text x="893.0" y="454">4</text><text x="906.1" y="454">4</text><text x="919.3" y="454">19</text><text x="958.8" y="454">27</text><text x="313.8" y="468">41</text><text x="327.0" y="468">13</text><text x="340.1" y="468">13</text><text x="353.3" y="468">10</text><text x="366.5" y="468">10</text><text x="379.6" y="468">17</text><text x="563.9" y="468">19</text><text x="577.1" y="468">22</text><text x="590.2" y="468">24</text><text x="603.4" y="468">26</text><text x="827.1" y="468">32</text><text x="840.3" y="468">17</text><text x="853.5" y="468">9</text><text x="866.6" y="468">13</text><text x="879.8" y="468">11</text><text x="893.0" y="468">8</text><text x="906.1" y="468">6</text><text x="919.3" y="468">18</text><text x="971.9" y="468">12</text><text x="327.0" y="483">17</text><text x="340.1" y="483">8</text><text x="353.3" y="483">7</text><text x="366.5" y="483">11</text><text x="721.8" y="483">47</text><text x="879.8" y="483">24</text><text x="893.0" y="483">30</text><text x="906.1" y="483">21</text><text x="919.3" y="483">19</text><text x="971.9" y="483">35</text><text x="985.1" y="483">24</text><text x="50.6" y="497">32</text><text x="327.0" y="497">23</text><text x="340.1" y="497">12</text><text x="353.3" y="497">8</text><text x="498.1" y="497">44</text><text x="906.1" y="497">25</text><text x="958.8" y="497">20</text><text x="971.9" y="497">24</text><text x="985.1" y="497">36</text><text x="327.0" y="511">15</text><text x="340.1" y="511">10</text><text x="616.5" y="511">34</text><text x="656.0" y="511">37</text><text x="708.7" y="511">37</text><text x="958.8" y="511">28</text><text x="971.9" y="511">31</text><text x="254.6" y="141">27</text><text x="359.9" y="141">28</text><text x="570.5" y="141">41</text><text x="675.8" y="141">37</text><text x="228.2" y="155">44</text><text x="333.5" y="155">34</text><text x="491.5" y="155">4</text><text x="544.1" y="155">36</text><text x="596.8" y="155">37</text><text x="702.1" y="155">37</text><text x="754.7" y="155">35</text><text x="807.4" y="155">31</text><text x="860.0" y="155">29</text><text x="912.7" y="155">34</text><text x="70.3" y="170">43</text><text x="122.9" y="170">31</text><text x="175.6" y="170">50</text><text x="280.9" y="170">36</text><text x="333.5" y="170">51</text><text x="438.8" y="170">15</text><text x="491.5" y="170">33</text><text x="544.1" y="170">25</text><text x="596.8" y="170">18</text><text x="649.4" y="170">30</text><text x="702.1" y="170">34</text><text x="754.7" y="170">29</text><text x="807.4" y="170">23</text><text x="860.0" y="170">26</text><text x="912.7" y="170">29</text><text x="965.4" y="170">26</text><text x="57.1" y="184">30</text><text x="83.5" y="184">36</text><text x="136.1" y="184">46</text><text x="162.4" y="184">42</text><text x="188.8" y="184">39</text><text x="215.1" y="184">51</text><text x="241.4" y="184">36</text><text x="267.7" y="184">39</text><text x="294.1" y="184">34</text><text x="320.4" y="184">27</text><text x="346.7" y="184">30</text><text x="373.0" y="184">16</text><text x="399.4" y="184">4</text><text x="425.7" y="184">7</text><text x="452.0" y="184">20</text><text x="478.3" y="184">14</text><text x="557.3" y="184">22</text><text x="583.6" y="184">18</text><text x="610.0" y="184">21</text><text x="636.3" y="184">22</text><text x="662.6" y="184">25</text><text x="688.9" y="184">20</text><text x="715.3" y="184">22</text><text x="741.6" y="184">16</text><text x="767.9" y="184">14</text><text x="794.2" y="184">17</text><text x="820.6" y="184">16</text><text x="846.9" y="184">11</text><text x="873.2" y="184">13</text><text x="899.5" y="184">11</text><text x="925.9" y="184">16</text><text x="952.2" y="184">20</text><text x="978.5" y="184">18</text><text x="57.1" y="198">31</text><text x="83.5" y="198">37</text><text x="109.8" y="198">34</text><text x="136.1" y="198">35</text><text x="162.4" y="198">30</text><text x="188.8" y="198">27</text><text x="215.1" y="198">37</text><text x="241.4" y="198">55</text><text x="267.7" y="198">44</text><text x="294.1" y="198">38</text><text x="320.4" y="198">51</text><text x="346.7" y="198">55</text><text x="373.0" y="198">7</text><text x="399.4" y="198">10</text><text x="452.0" y="198">29</text><text x="478.3" y="198">28</text><text x="504.7" y="198">24</text><text x="531.0" y="198">15</text><text x="557.3" y="198">19</text><text x="583.6" y="198">21</text><text x="610.0" y="198">23</text><text x="636.3" y="198">25</text><text x="662.6" y="198">28</text><text x="688.9" y="198">15</text><text x="715.3" y="198">20</text><text x="741.6" y="198">19</text><text x="767.9" y="198">16</text><text x="794.2" y="198">20</text><text x="820.6" y="198">14</text><text x="846.9" y="198">14</text><text x="873.2" y="198">13</text><text x="899.5" y="198">13</text><text x="925.9" y="198">23</text><text x="952.2" y="198">19</text><text x="978.5" y="198">25</text><text x="57.1" y="212">54</text><text x="83.5" y="212">60</text><text x="109.8" y="212">33</text><text x="162.4" y="212">40</text><text x="188.8" y="212">20</text><text x="215.1" y="212">22</text><text x="241.4" y="212">33</text><text x="267.7" y="212">39</text><text x="320.4" y="212">51</text><text x="346.7" y="212">52</text><text x="504.7" y="212">41</text><text x="531.0" y="212">18</text><text x="557.3" y="212">21</text><text x="583.6" y="212">17</text><text x="610.0" y="212">23</text><text x="636.3" y="212">22</text><text x="662.6" y="212">20</text><text x="688.9" y="212">18</text><text x="715.3" y="212">17</text><text x="741.6" y="212">14</text><text x="767.9" y="212">10</text><text x="794.2" y="212">10</text><text x="820.6" y="212">7</text><text x="846.9" y="212">9</text><text x="873.2" y="212">14</text><text x="899.5" y="212">12</text><text x="925.9" y="212">13</text><text x="952.2" y="212">10</text><text x="57.1" y="226">58</text><text x="162.4" y="226">27</text><text x="188.8" y="226">22</text><text x="215.1" y="226">15</text><text x="241.4" y="226">19</text><text x="267.7" y="226">33</text><text x="294.1" y="226">39</text><text x="320.4" y="226">40</text><text x="346.7" y="226">38</text><text x="373.0" y="226">38</text><text x="478.3" y="226">25</text><text x="504.7" y="226">39</text><text x="531.0" y="226">30</text><text x="557.3" y="226">22</text><text x="583.6" y="226">24</text><text x="610.0" y="226">17</text><text x="636.3" y="226">20</text><text x="662.6" y="226">19</text><text x="688.9" y="226">13</text><text x="715.3" y="226">14</text><text x="741.6" y="226">11</text><text x="767.9" y="226">9</text><text x="794.2" y="226">7</text><text x="820.6" y="226">3</text><text x="846.9" y="226">6</text><text x="873.2" y="226">10</text><text x="899.5" y="226">8</text><text x="925.9" y="226">14</text><text x="320.4" y="525">19</text><text x="346.7" y="525">16</text><text x="373.0" y="525">33</text><text x="925.9" y="525">35</text><text x="952.2" y="525">32</text><text x="346.7" y="554">21</text><text x="373.0" y="554">12</text><text x="399.4" y="554">21</text><text x="346.7" y="568">11</text><text x="610.0" y="568">9</text><text x="636.3" y="568">14</text><text x="688.9" y="568">9</text><text x="715.3" y="568">22</text><text x="767.9" y="568">11</text><text x="820.6" y="568">29</text><text x="899.5" y="568">16</text><text x="925.9" y="568">13</text><text x="175.6" y="582">32</text><text x="491.5" y="582">14</text><text x="544.1" y="582">3</text><text x="596.8" y="582">0</text><text x="649.4" y="582">1</text><text x="280.9" y="597">13</text><text x="438.8" y="597">17</text><text x="807.4" y="597">0</text><text x="965.4" y="597">11</text><text x="254.6" y="611">13</text><text x="517.8" y="625">0</text></g>
</g>
<rect x="42.5" y="116.5" width="888" height="512" fill="none" stroke="#000" stroke-width="1" shape-rendering="crispEdges"/>
<g class="n" transform="scale(0.9370 1)"><text x="1039.8" y="141">29</text><text x="1039.8" y="155">35</text><text x="1039.8" y="170">29</text><text x="1039.8" y="184">23</text><text x="1039.8" y="198">25</text><text x="1039.8" y="212">22</text><text x="1039.8" y="226">20</text><text x="1039.8" y="241">17</text><text x="1039.8" y="255">12</text><text x="1039.8" y="269">8</text><text x="1039.8" y="283">9</text><text x="1039.8" y="298">9</text><text x="1039.8" y="312">7</text><text x="1039.8" y="326">6</text><text x="1039.8" y="340">7</text><text x="1039.8" y="355">13</text><text x="1039.8" y="369">13</text><text x="1039.8" y="383">15</text><text x="1039.8" y="397">12</text><text x="1039.8" y="412">11</text><text x="1039.8" y="426">11</text><text x="1039.8" y="440">12</text><text x="1039.8" y="454">9</text><text x="1039.8" y="468">15</text><text x="1039.8" y="483">17</text><text x="1039.8" y="497">19</text><text x="1039.8" y="511">16</text><text x="1039.8" y="525">19</text><text x="1039.8" y="554">16</text><text x="1039.8" y="568">16</text><text x="1039.8" y="582">2</text><text x="1039.8" y="597">3</text><text x="1039.8" y="611">7</text><text x="1039.8" y="625">0</text></g>
<text x="974.5" y="98.2" style="font-size:9.5px;text-anchor:middle">ZONAL</text>
<text x="974.5" y="110.8" style="font-size:9.5px;text-anchor:middle">AVERAGE</text>
<text x="485.5" y="28" style="font-size:17.6px;font-weight:bold;text-anchor:middle;letter-spacing:0.25px">Stratocumulus</text>
<text x="485" y="50.7" style="font-size:14.7px;font-weight:bold;text-anchor:middle">Average Cloud Amount (%)</text>
<text x="45" y="100" style="font-size:13.33px;letter-spacing:-0.26px">October (1971 - 1996)</text>
<text x="925.8" y="100" style="font-size:13.33px;text-anchor:end;letter-spacing:-0.13px">Land Areas Only</text>
<text class="b" x="29" y="119.9" text-anchor="end">90 ° N</text>
<text class="b" x="29" y="204.9" text-anchor="end">60 ° N</text>
<text class="b" x="29" y="289.9" text-anchor="end">30 ° N</text>
<text class="b" x="29" y="375.9" text-anchor="end">0 °</text>
<text class="b" x="29" y="460.9" text-anchor="end">30 ° S</text>
<text class="b" x="29" y="545.9" text-anchor="end">60 ° S</text>
<text class="b" x="29" y="631.9" text-anchor="end">90 ° S</text>
<text class="b" x="45.3" y="653" text-anchor="middle">180 ° W</text>
<text class="b" x="118.8" y="653" text-anchor="middle">150 ° W</text>
<text class="b" x="192.5" y="653" text-anchor="middle">120 ° W</text>
<text class="b" x="266.5" y="653" text-anchor="middle">90 ° W</text>
<text class="b" x="339.2" y="653" text-anchor="middle">60 ° W</text>
<text class="b" x="412.4" y="653" text-anchor="middle">30 ° W</text>
<text class="b" x="485.8" y="653" text-anchor="middle">0 °</text>
<text class="b" x="559.0" y="653" text-anchor="middle">30 ° E</text>
<text class="b" x="631.7" y="653" text-anchor="middle">60 ° E</text>
<text class="b" x="705.0" y="653" text-anchor="middle">90 ° E</text>
<text class="b" x="777.4" y="653" text-anchor="middle">120 ° E</text>
<text class="b" x="851.1" y="653" text-anchor="middle">150 ° E</text>
<text class="b" x="924.9" y="653" text-anchor="middle">180 ° E</text>
<text x="485" y="685.8" style="font-size:10.67px;text-anchor:middle;letter-spacing:0.03px" xml:space="preserve">GLOBAL AVERAGE (LAND)   13.2 %</text>
<text x="486.2" y="719.8" style="font-size:13.33px;text-anchor:middle;letter-spacing:-0.065px">(File name = lmca10low.txt, MGRP = 8094, TYPE = 13, PCODE = 1, SN = 10)</text>
</svg></body></html>
